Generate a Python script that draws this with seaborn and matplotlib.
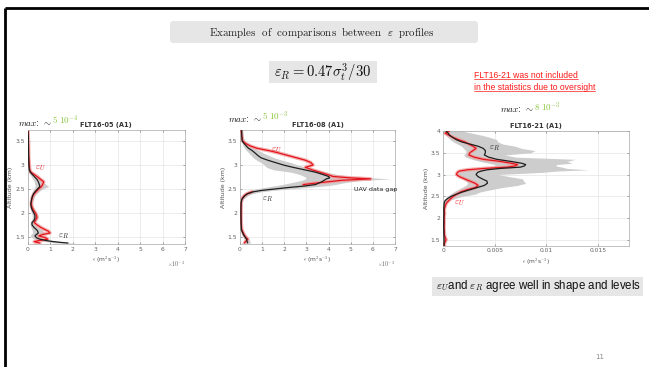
import numpy as np
import pandas as pd
import matplotlib
matplotlib.use("Agg")
import matplotlib.pyplot as plt
from matplotlib.patches import FancyBboxPatch, Rectangle
from matplotlib.ticker import FuncFormatter, MultipleLocator, FixedLocator
import seaborn as sns

W, H, DPI = 649, 367, 100
nan = np.nan

# ---------------- profile data (epsilon in 1e-3 m^2 s^-3, altitude in km) ----------------
alt_05 = [3.70, 3.60, 3.40, 3.20, 3.00, 2.90, 2.85, 2.80, 2.75, 2.70,
          2.65, 2.60, 2.55, 2.50, 2.45, 2.40, 2.35, 2.30, 2.25, 2.20,
          2.15, 2.10, 2.05, 2.00, 1.95, 1.90, 1.85, 1.80, 1.75, 1.70,
          1.65, 1.62, 1.58, 1.55, 1.52, 1.48, 1.45, 1.42, 1.40, 1.38, 1.37]
epsR_05 = [0.02, 0.04, 0.04, 0.05, 0.06, 0.08, 0.12, 0.22, 0.32, 0.42,
           0.48, 0.52, 0.55, 0.45, 0.35, 0.27, 0.22, 0.19, 0.17, 0.15,
           0.15, 0.18, 0.22, 0.28, 0.33, 0.33, 0.30, 0.20, 0.20, 0.28,
           0.40, 0.45, 0.48, 0.40, 0.33, 0.40, 0.55, 0.85, 1.15, 1.55, 1.80]
epsU_05 = [0.03, 0.03, 0.05, 0.05, 0.08, 0.10, 0.15, 0.30, 0.45, 0.58,
           0.72, 0.68, 0.62, 0.50, 0.40, 0.30, 0.24, 0.20, 0.18, 0.17,
           0.18, 0.22, 0.28, 0.35, 0.40, 0.42, 0.36, 0.30, 0.42, 0.58,
           0.78, 0.92, 1.00, 0.70, 0.50, 0.80, 0.90, 0.50, 0.30, 0.45, 0.55]
lo_05 = [0.01, 0.02, 0.02, 0.03, 0.03, 0.04, 0.06, 0.12, 0.18, 0.25,
         0.30, 0.32, 0.35, 0.28, 0.22, 0.17, 0.14, 0.12, 0.10, 0.09,
         0.09, 0.11, 0.14, 0.18, 0.21, 0.21, 0.19, 0.12, 0.12, 0.15,
         0.20, 0.22, 0.22, 0.15, 0.12, 0.20, 0.32, 0.55, 0.80, 1.10, 1.30]
hi_05 = [0.04, 0.06, 0.07, 0.08, 0.10, 0.14, 0.22, 0.38, 0.50, 0.62,
         0.70, 0.80, 0.95, 0.68, 0.52, 0.40, 0.32, 0.28, 0.25, 0.23,
         0.23, 0.27, 0.32, 0.40, 0.46, 0.46, 0.42, 0.30, 0.32, 0.45,
         0.65, 0.70, 0.75, 0.66, 0.58, 0.62, 0.80, 1.15, 1.50, 1.95, 2.20]

alt_08 = [3.72, 3.60, 3.50, 3.45, 3.40, 3.35, 3.30, 3.25, 3.20, 3.15,
          3.10, 3.05, 3.00, 2.95, 2.90, 2.85, 2.80, 2.76, 2.73, 2.71,
          2.68, 2.65, 2.62, 2.59, 2.56, 2.53, 2.50, 2.47, 2.44, 2.40,
          2.36, 2.32, 2.28, 2.20, 2.00, 1.80, 1.65, 1.55, 1.50, 1.45,
          1.40, 1.37]
epsR_08 = [0.08, 0.08, 0.10, 0.18, 0.28, 0.38, 0.55, 0.68, 0.80, 0.95,
           1.25, 1.60, 1.95, 2.40, 2.90, 3.40, 3.75, 4.00, 4.05, 3.90,
           3.80, 3.70, 3.55, 3.40, 2.90, 2.20, 1.60, 1.00, 0.60, 0.35,
           0.22, 0.15, 0.08, 0.05, 0.04, 0.05, 0.06, 0.15, 0.22, 0.30,
           0.32, 0.35]
epsU_08 = [0.05, 0.08, 0.12, 0.25, 0.45, 0.75, 1.30, 1.75, 2.15, 2.55,
           2.95, 3.20, 3.30, 2.95, 3.25, 3.60, 3.95, 4.20, 5.00, 5.90,
           4.60, 4.00, 3.40, 2.85, nan, nan, nan, nan, 0.55, 0.32,
           0.20, 0.12, 0.08, 0.05, 0.05, 0.05, 0.08, 0.18, 0.25, 0.35,
           0.25, 0.20]
lo_08 = [0.03, 0.04, 0.05, 0.10, 0.15, 0.20, 0.30, 0.40, 0.50, 0.60,
         0.75, 0.95, 1.10, 1.20, 1.50, 2.30, 2.70, 2.90, 3.00, 2.95,
         2.80, 2.50, 2.20, 1.90, 1.50, 1.10, 0.70, 0.45, 0.30, 0.18,
         0.10, 0.07, 0.04, 0.02, 0.02, 0.02, 0.03, 0.08, 0.12, 0.18,
         0.20, 0.20]
hi_08 = [0.12, 0.14, 0.20, 0.30, 0.45, 0.60, 0.85, 1.05, 1.30, 1.55,
         1.90, 2.30, 2.60, 3.00, 3.40, 3.90, 4.40, 5.00, 6.00, 6.80,
         5.60, 5.00, 4.60, 4.30, 3.80, 3.00, 2.30, 1.50, 0.95, 0.55,
         0.35, 0.25, 0.14, 0.09, 0.07, 0.08, 0.10, 0.22, 0.32, 0.42,
         0.45, 0.48]

alt_21 = [4.00, 3.95, 3.90, 3.85, 3.80, 3.75, 3.70, 3.65, 3.60, 3.55,
          3.50, 3.45, 3.40, 3.35, 3.30, 3.26, 3.23, 3.20, 3.17, 3.14,
          3.11, 3.08, 3.05, 3.00, 2.95, 2.90, 2.85, 2.80, 2.75, 2.70,
          2.65, 2.60, 2.55, 2.50, 2.45, 2.40, 2.35, 2.30, 2.20, 2.10,
          2.00, 1.90, 1.80, 1.70, 1.60, 1.50, 1.40, 1.37]
epsR_21 = [0.30, 0.50, 0.65, 0.95, 1.30, 1.80, 2.60, 3.40, 3.90, 4.10,
           4.10, 4.00, 4.40, 5.20, 6.60, 7.60, 8.00, 7.90, 7.50, 5.50,
           4.30, 3.70, 3.35, 3.20, 3.40, 3.80, 4.25, 4.30, 4.00, 3.30,
           2.60, 1.90, 1.30, 0.80, 0.45, 0.20, 0.12, 0.10, 0.08, 0.08,
           0.08, 0.07, 0.07, 0.08, 0.09, 0.10, 0.10, 0.10]
epsU_21 = [0.60, 0.20, 0.60, 1.00, 1.50, 2.10, 2.50, 2.90, 3.20, 2.90,
           2.60, 2.50, 3.00, 3.90, 5.60, 6.60, 7.20, 7.00, 6.20, 4.00,
           2.40, 1.60, 1.40, 1.30, 1.60, 2.10, 2.60, 3.10, 3.40, 3.10,
           2.30, 1.70, 1.35, 1.00, 0.75, 0.55, 0.35, 0.25, 0.12, 0.15,
           0.10, 0.12, 0.10, 0.12, 0.15, 0.30, 0.10, 0.15]
lo_21 = [0.10, 0.20, 0.30, 0.50, 0.70, 1.00, 1.40, 1.80, 2.00, 2.20,
         2.20, 2.00, 2.20, 2.80, 3.60, 4.40, 5.00, 5.00, 4.80, 3.50,
         2.30, 1.80, 1.50, 1.40, 1.60, 1.90, 2.20, 2.40, 2.20, 1.80,
         1.40, 1.00, 0.70, 0.40, 0.20, 0.10, 0.05, 0.04, 0.03, 0.03,
         0.03, 0.03, 0.03, 0.03, 0.04, 0.04, 0.04, 0.04]
hi_21 = [1.80, 2.80, 3.80, 4.60, 5.20, 5.30, 5.80, 7.00, 7.60, 8.90,
         8.50, 6.00, 7.00, 12.8, 12.0, 12.5, 11.0, 10.9, 11.5, 12.0,
         14.1, 11.0, 9.60, 5.30, 6.50, 7.70, 7.80, 8.00, 7.20, 5.70,
         4.60, 3.60, 3.10, 1.90, 1.20, 0.50, 0.30, 0.22, 0.16, 0.15,
         0.15, 0.14, 0.14, 0.15, 0.18, 0.20, 0.20, 0.20]

flight_titles = ["FLT16-05 (A1)", "FLT16-08 (A1)", "FLT16-21 (A1)"]
max_mantissa = ["5", "5", "8"]
max_exponent = ["-4", "-3", "-3"]

# ---------------- style ----------------
sns.set_style("whitegrid")
plt.rcParams["mathtext.fontset"] = "cm"
plt.rcParams["font.family"] = ["DejaVu Sans"]

fig = plt.figure(figsize=(W / DPI, H / DPI), dpi=DPI)
fig.patch.set_facecolor("white")

# full-figure layer in pixel units for the slide decorations
bg = fig.add_axes([0, 0, 1, 1], zorder=0)
bg.set_xlim(0, W)
bg.set_ylim(H, 0)
bg.axis("off")


def px_rect(x0, y0, x1, y1):
    return [x0 / W, 1 - y1 / H, (x1 - x0) / W, (y1 - y0) / H]


def segments(alt, vals):
    """Contiguous non-missing runs of a profile."""
    a = np.asarray(alt, float)
    v = np.asarray(vals, float)
    ok = ~np.isnan(v)
    runs, cur = [], []
    for i in range(len(v)):
        if ok[i]:
            cur.append(i)
        elif cur:
            runs.append(cur)
            cur = []
    if cur:
        runs.append(cur)
    return [(a[r], v[r]) for r in runs]


panels = [
    dict(rect=(27.5, 130, 185, 244), alt=alt_05, R=epsR_05, U=epsU_05, lo=lo_05, hi=hi_05,
         xlim=(0, 7e-3), ylim=(1.35, 3.73), xstep=1e-3, yticks=[1.5, 2, 2.5, 3, 3.5],
         scaled=True),
    dict(rect=(240, 130, 395, 244), alt=alt_08, R=epsR_08, U=epsU_08, lo=lo_08, hi=hi_08,
         xlim=(0, 7e-3), ylim=(1.35, 3.73), xstep=1e-3, yticks=[1.5, 2, 2.5, 3, 3.5],
         scaled=True),
    dict(rect=(443, 131, 629, 245.5), alt=alt_21, R=epsR_21, U=epsU_21, lo=lo_21, hi=hi_21,
         xlim=(0, 0.018), ylim=(1.37, 4.0), xstep=0.005, yticks=[1.5, 2, 2.5, 3, 3.5, 4],
         scaled=False),
]

axes = []
for i, p in enumerate(panels):
    ax = fig.add_axes(px_rect(*p["rect"]), zorder=2)
    axes.append(ax)
    alt = np.asarray(p["alt"], float)
    lo = np.asarray(p["lo"], float) * 1e-3
    hi = np.asarray(p["hi"], float) * 1e-3

    ax.fill_betweenx(alt, lo, hi, color="#cdcdcd", lw=0, zorder=1)

    # UAV-derived profile: soft halo + red line, split at data gaps
    for a_seg, v_seg in segments(p["alt"], p["U"]):
        df = pd.DataFrame({"eps": v_seg * 1e-3, "alt": a_seg})
        sns.lineplot(data=df, x="eps", y="alt", orient="y", sort=False, estimator=None,
                     color="#f19a9a", lw=2.6, alpha=0.75, ax=ax, zorder=2)
        sns.lineplot(data=df, x="eps", y="alt", orient="y", sort=False, estimator=None,
                     color="#e3141b", lw=0.9, ax=ax, zorder=3)

    dfr = pd.DataFrame({"eps": np.asarray(p["R"], float) * 1e-3, "alt": alt})
    sns.lineplot(data=dfr, x="eps", y="alt", orient="y", sort=False, estimator=None,
                 color="#1e1e1e", lw=0.9, ax=ax, zorder=4)

    ax.set_xlim(*p["xlim"])
    ax.set_ylim(*p["ylim"])
    ax.xaxis.set_major_locator(MultipleLocator(p["xstep"]))
    ax.yaxis.set_major_locator(FixedLocator(p["yticks"]))
    if p["scaled"]:
        ax.xaxis.set_major_formatter(FuncFormatter(lambda v, _: f"{v * 1e3:g}"))
        ax.text(1.0, -0.135, r"$\times10^{-3}$", transform=ax.transAxes, ha="right",
                va="top", fontsize=4.3, color="#606060")
    else:
        ax.xaxis.set_major_formatter(FuncFormatter(lambda v, _: f"{v:g}"))
    ax.yaxis.set_major_formatter(FuncFormatter(lambda v, _: f"{v:g}"))

    ax.set_facecolor("white")
    ax.grid(True, color="#e4e4e4", lw=0.5)
    for s in ax.spines.values():
        s.set_color("#a8a8a8")
        s.set_linewidth(0.5)
    ax.tick_params(labelsize=4.3, colors="#606060", length=1.5, width=0.4, direction="in",
                   pad=2, bottom=True, left=True, top=True, right=True)
    ax.set_title(flight_titles[i], fontsize=4.8, fontweight="bold", pad=2.5, color="#333333")
    ax.set_ylabel("Altitude (km)", fontsize=4.5, labelpad=1.5, color="#505050")
    ax.set_xlabel(r"$\epsilon$ (m$^2$s$^{-3}$)", fontsize=4.3, labelpad=2, color="#505050")

# curve labels
ax1, ax2, ax3 = axes
ax1.text(0.6e-3, 2.94, r"$\varepsilon_U$", color="#e3141b", fontsize=6.5, ha="center", va="center")
ax1.text(1.6e-3, 1.51, r"$\varepsilon_R$", color="#1e1e1e", fontsize=6.5, ha="center", va="center")
ax2.text(1.67e-3, 3.31, r"$\varepsilon_U$", color="#e3141b", fontsize=6.5, ha="center", va="center")
ax2.text(1.22e-3, 2.29, r"$\varepsilon_R$", color="#1e1e1e", fontsize=6.5, ha="center", va="center")
ax2.text(5.15e-3, 2.48, "UAV data gap", color="#1e1e1e", fontsize=4.6, ha="left", va="center")
ax3.text(4.95e-3, 3.60, r"$\varepsilon_R$", color="#1e1e1e", fontsize=6.5, ha="center", va="center")
ax3.text(1.55e-3, 2.33, r"$\varepsilon_U$", color="#e3141b", fontsize=6.5, ha="center", va="center")

# ---------------- slide decorations ----------------
bg.plot([5, W], [7.5, 7.5], color="black", lw=2.0, solid_capstyle="butt")
bg.plot([5, 5], [7.5, H], color="black", lw=2.0, solid_capstyle="butt")

bg.add_patch(FancyBboxPatch((170, 21), 308, 22, boxstyle="round,pad=0,rounding_size=3",
                            fc="#e6e6e6", ec="none"))
bg.text(322, 32.5, r"$\mathrm{Examples\ \ of\ \ comparisons\ \ between\ \ }\varepsilon\mathrm{\ \ profiles}$",
        ha="center", va="center", fontsize=7.9, color="#222222")

bg.add_patch(Rectangle((269, 61), 108, 22, fc="#e6e6e6", ec="none"))
bg.text(323, 72, r"$\varepsilon_R = 0.47\sigma_t^3/30$", ha="center", va="center",
        fontsize=10.6, color="#111111")

red_lines = []
for txt, yy in [("FLT16-21 was not included", 75), ("in the statistics due to oversight", 87)]:
    red_lines.append(bg.text(474, yy, txt, ha="left", va="center", fontsize=6.2,
                             color="#ff1a1a", fontfamily="Liberation Sans"))

for (xx, yy), mant, expo in zip([(18, 123), (228, 119), (500, 110)], max_mantissa, max_exponent):
    t = bg.text(xx, yy, r"$max$: $\sim$", ha="left", va="center", fontsize=6.5, color="#111111")
    bg.annotate(rf"$\mathrm{{{mant}}}\ \mathrm{{10}}^{{{expo}}}$", xy=(1, 0), xycoords=t,
                va="bottom", ha="left", fontsize=6.5, color="#8cc63f")

bg.add_patch(Rectangle((432, 277), 211, 19, fc="#e6e6e6", ec="none"))
bg.text(436, 286.5, r"$\varepsilon_U$and $\varepsilon_R$ agree well in shape and levels",
        ha="left", va="center", fontsize=8.3, color="#111111", fontfamily="Liberation Sans")

bg.text(600, 357, "11", ha="center", va="center", fontsize=5, color="#8a8a8a")

# underline the red note
fig.canvas.draw()
renderer = fig.canvas.get_renderer()
for t in red_lines:
    bb = t.get_window_extent(renderer)
    yline = H - bb.y0 - 0.3
    bg.plot([bb.x0, bb.x1], [yline, yline], color="#ff1a1a", lw=0.5)

fig.savefig("out.png", dpi=DPI, facecolor="white")
